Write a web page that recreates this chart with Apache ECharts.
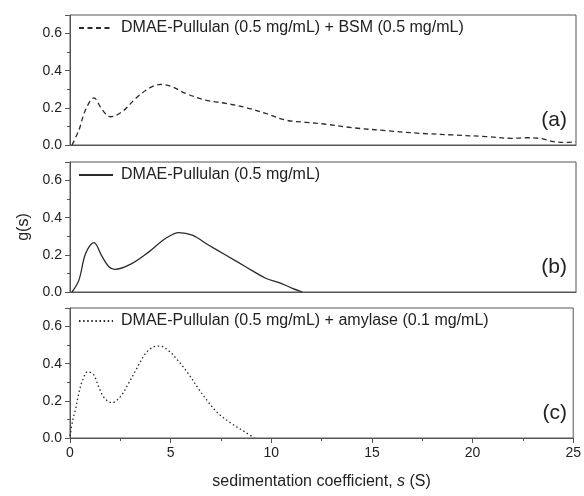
<!DOCTYPE html>
<html>
<head>
<meta charset="utf-8">
<script src="https://cdn.jsdelivr.net/npm/echarts@6/dist/echarts.min.js"></script>
<style>
html,body{margin:0;padding:0;background:#fff;}
#c{width:584px;height:496px;}
</style>
</head>
<body>
<div id="c"></div>
<script>
// Panel (a): DMAE-Pullulan + BSM
var sA = [0.1,0.44,0.77,1.18,1.59,2.0,2.58,3.24,3.9,4.48,5.05,5.71,6.7,7.7,8.68,9.67,10.66,11.65,12.55,13.97,15.64,17.28,18.92,20.58,21.8,22.6,23.3,23.9,24.5,25];
var gA = [0,0.08,0.19,0.254,0.19,0.152,0.18,0.25,0.305,0.326,0.313,0.278,0.242,0.224,0.202,0.17,0.134,0.122,0.113,0.093,0.077,0.063,0.054,0.045,0.036,0.039,0.034,0.018,0.014,0.018];
// Panel (b): DMAE-Pullulan
var sB = [0.1,0.44,0.77,1.18,1.59,1.92,2.22,3.07,3.9,4.72,5.38,6.04,6.86,7.69,8.68,9.67,10.33,10.99,11.48];
var gB = [0,0.064,0.207,0.266,0.19,0.136,0.122,0.154,0.216,0.288,0.32,0.306,0.252,0.199,0.136,0.074,0.051,0.02,0];
// Panel (c): DMAE-Pullulan + amylase
var sC = [0,0.14,0.27,0.44,0.6,0.88,1.18,1.42,1.72,2.08,2.5,2.91,3.32,3.73,4.14,4.47,4.88,5.38,5.87,6.37,6.86,7.36,8.01,8.67,9.16];
var gC = [0.01,0.098,0.152,0.242,0.304,0.357,0.34,0.277,0.214,0.19,0.222,0.294,0.375,0.452,0.49,0.495,0.472,0.415,0.348,0.267,0.195,0.133,0.079,0.034,0];

var names = ['DMAE-Pullulan (0.5 mg/mL) + BSM (0.5 mg/mL)','DMAE-Pullulan (0.5 mg/mL)','DMAE-Pullulan (0.5 mg/mL) + amylase (0.1 mg/mL)'];
var panelLabels = ['(a)','(b)','(c)'];

function pairs(xs, ys){ return xs.map(function(x,i){ return [x, ys[i]]; }); }

var FONT = '"Liberation Sans", Arial, sans-serif';
var TXT = '#222';
var AX = '#555';
var LINE = '#2a2a2a';
var tops = [15, 162, 308];
var H = 130;

var grids = [], xAxes = [], yAxes = [], series = [], legends = [], titles = [];
var datas = [pairs(sA,gA), pairs(sB,gB), pairs(sC,gC)];
var types = [[5,3.5], 'solid', [1.5,2.6]];

for (var i = 0; i < 3; i++) {
  grids.push({left:70, right:8, top:tops[i], height:H, show:true, borderColor:AX, borderWidth:1, backgroundColor:'transparent'});
  var last = (i === 2);
  xAxes.push({
    type:'value', gridIndex:i, min:0, max:25, interval:5,
    axisLine:{show:true, lineStyle:{color:AX, width:1}},
    axisTick:{show:last, length:5, lineStyle:{color:AX}},
    minorTick:{show:last, splitNumber:2, length:3, lineStyle:{color:AX}},
    splitLine:{show:false},
    axisLabel:{show:last, color:TXT, fontSize:14, fontFamily:FONT, margin:8},
    name: last ? 'sedimentation coefficient, {i|s} (S)' : '',
    nameLocation:'middle', nameGap:36,
    nameTextStyle:{color:TXT, fontSize:16, fontFamily:FONT, rich:{i:{fontStyle:'italic', fontSize:16, fontFamily:FONT, color:TXT}}}
  });
  yAxes.push({
    type:'value', gridIndex:i, min:0, max:0.7, interval:0.2,
    axisLine:{show:true, lineStyle:{color:AX, width:1}},
    axisTick:{show:true, length:5, lineStyle:{color:AX}},
    minorTick:{show:true, splitNumber:2, length:3, lineStyle:{color:AX}},
    splitLine:{show:false},
    axisLabel:{color:TXT, fontSize:14, fontFamily:FONT, margin:8, showMaxLabel:false,
      formatter:function(v){ return v.toFixed(1); }},
    name: i === 1 ? 'g(s)' : '',
    nameLocation:'middle', nameGap:38, nameRotate:90,
    nameTextStyle:{color:TXT, fontSize:16, fontFamily:FONT}
  });
  series.push({
    name:names[i], type:'line', xAxisIndex:i, yAxisIndex:i,
    data:datas[i], smooth:0.35, symbol:'none', animation:false,
    itemStyle:{color:LINE},
    lineStyle:{color:LINE, width:1.3, type:types[i]}
  });
  legends.push({
    data:[names[i]], left:78, top:tops[i]+5, padding:0, itemWidth:34, itemHeight:14, itemGap:4,
    itemStyle:{opacity:0},
    textStyle:{color:TXT, fontSize:16, fontFamily:FONT, padding:[0,0,0,3]},
    selectedMode:false
  });
  titles.push({
    text:panelLabels[i], right:12, top:tops[i]+90,
    textStyle:{color:TXT, fontSize:21, fontWeight:'normal', fontFamily:FONT}
  });
}

var chart = echarts.init(document.getElementById('c'), null, {renderer:'canvas'});
chart.setOption({
  animation:false,
  backgroundColor:'#fff',
  title:titles,
  grid:grids, xAxis:xAxes, yAxis:yAxes, series:series, legend:legends
});
</script>
</body>
</html>
